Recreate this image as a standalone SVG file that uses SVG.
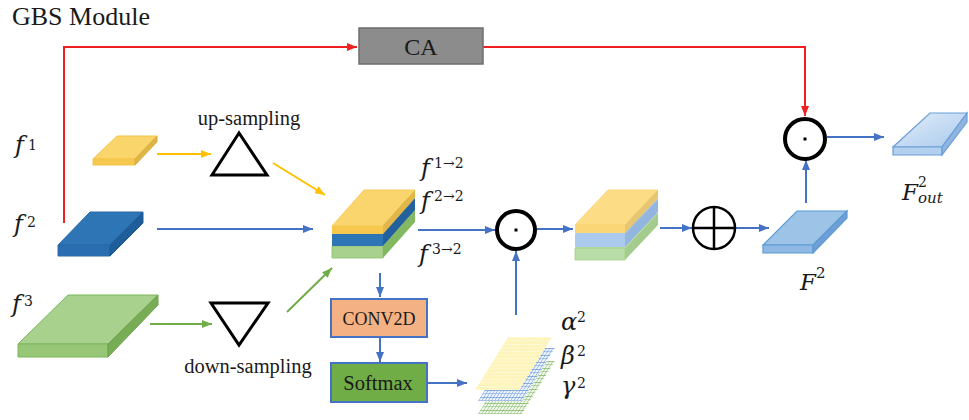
<svg xmlns="http://www.w3.org/2000/svg" width="969" height="420" viewBox="0 0 969 420">
<style>
.blue{stroke:#4472c4;stroke-width:2;fill:none}
.red{stroke:#f02020;stroke-width:2;fill:none}
.yel{stroke:#ffc000;stroke-width:2;fill:none}
.grn{stroke:#70ad47;stroke-width:2;fill:none}
.op{fill:#fff;stroke:#000;stroke-width:4}
.tri{fill:#fff;stroke:#000;stroke-width:3;stroke-linejoin:miter}
</style>
<defs>
<marker id="ab" markerUnits="userSpaceOnUse" markerWidth="10" markerHeight="8" refX="10" refY="4" orient="auto"><path d="M0,0 L10,4 L0,8 z" fill="#4472c4"/></marker>
<marker id="ar" markerUnits="userSpaceOnUse" markerWidth="10" markerHeight="8" refX="10" refY="4" orient="auto"><path d="M0,0 L10,4 L0,8 z" fill="#f02020"/></marker>
<marker id="ay" markerUnits="userSpaceOnUse" markerWidth="10" markerHeight="8" refX="10" refY="4" orient="auto"><path d="M0,0 L10,4 L0,8 z" fill="#ffc000"/></marker>
<marker id="ag" markerUnits="userSpaceOnUse" markerWidth="10" markerHeight="8" refX="10" refY="4" orient="auto"><path d="M0,0 L10,4 L0,8 z" fill="#70ad47"/></marker>
<pattern id="gy" patternUnits="userSpaceOnUse" width="3.2" height="3.5"><rect width="3.2" height="3.5" fill="#fdf3b4"/><path d="M0,0H3.2M0,0V3.5" stroke="#fffbe6" stroke-width="0.9"/></pattern>
<pattern id="gb" patternUnits="userSpaceOnUse" width="3.2" height="3.5"><rect width="3.2" height="3.5" fill="#eef4fc"/><path d="M0,0H3.2M0,0V3.5" stroke="#4f86d0" stroke-width="0.9"/></pattern>
<pattern id="gg" patternUnits="userSpaceOnUse" width="3.2" height="3.5"><rect width="3.2" height="3.5" fill="#f2f8ee"/><path d="M0,0H3.2M0,0V3.5" stroke="#6aa845" stroke-width="0.9"/></pattern>
<linearGradient id="fo" x1="0" y1="0" x2="1" y2="1"><stop offset="0" stop-color="#e3eefa"/><stop offset="1" stop-color="#a9c9ec"/></linearGradient>
</defs>
<rect width="969" height="420" fill="#fff"/>
<text x="12" y="25" font-size="26" font-family="Liberation Serif, serif" fill="#1a1a1a">GBS Module</text>

<g id="connectors">
<path class="red" d="M64,223 V47 H357" marker-end="url(#ar)"/>
<path class="red" d="M483,47 H805 V116" marker-end="url(#ar)"/>
<line class="yel" x1="157" y1="154" x2="211" y2="154" marker-end="url(#ay)"/>
<line class="yel" x1="273" y1="163" x2="325" y2="195" marker-end="url(#ay)"/>
<line class="blue" x1="157" y1="229" x2="313" y2="229" marker-end="url(#ab)"/>
<line class="grn" x1="150" y1="324" x2="212" y2="324" marker-end="url(#ag)"/>
<line class="grn" x1="287" y1="312" x2="332" y2="268" marker-end="url(#ag)"/>
<line class="blue" x1="418" y1="230" x2="495" y2="230" marker-end="url(#ab)"/>
<line class="blue" x1="537" y1="229" x2="573" y2="229" marker-end="url(#ab)"/>
<line class="blue" x1="660" y1="228" x2="692" y2="228" marker-end="url(#ab)"/>
<line class="blue" x1="735" y1="228" x2="769" y2="228" marker-end="url(#ab)"/>
<line class="blue" x1="806" y1="203" x2="806" y2="160" marker-end="url(#ab)"/>
<line class="blue" x1="827" y1="137" x2="884" y2="137" marker-end="url(#ab)"/>
<line class="blue" x1="380" y1="273" x2="380" y2="297" marker-end="url(#ab)"/>
<line class="blue" x1="380" y1="337" x2="380" y2="362" marker-end="url(#ab)"/>
<line class="blue" x1="427" y1="383" x2="467" y2="383" marker-end="url(#ab)"/>
<line class="blue" x1="516" y1="315" x2="516" y2="251" marker-end="url(#ab)"/>
</g>

<g id="ca">
<rect x="359" y="28" width="124" height="36" fill="#8c8c8c" stroke="#6e6e6e" stroke-width="1.5"/>
<text x="421" y="55" font-size="24" text-anchor="middle" font-family="Liberation Serif, serif" fill="#1a1a1a">CA</text>
</g>

<g id="f1">
<polygon points="117,136 157,136 135,159 93,159" fill="#f9d56c" stroke="#f3c649" stroke-width="1"/>
<polygon points="93,159 135,159 135,165 93,165" fill="#f6c84f" stroke="#f3c649" stroke-width="1"/>
<polygon points="157,136 157,142 135,165 135,159" fill="#dfb548" stroke="#d9ad3e" stroke-width="1"/>
<text x="15" y="153" font-size="24" font-family="DejaVu Serif, serif" font-style="italic" fill="#1a1a1a">f</text><text x="28" y="150" font-size="14" font-family="DejaVu Serif, serif" fill="#1a1a1a">1</text>
</g>

<g id="f2">
<polygon points="90,212 143,212 110,245 58,245" fill="#2e75b6" stroke="#2a6aa8" stroke-width="1"/>
<polygon points="58,245 110,245 110,256 58,256" fill="#2a6db0" stroke="#2a6aa8" stroke-width="1"/>
<polygon points="143,212 143,223 110,256 110,245" fill="#1f5d99" stroke="#1f5d99" stroke-width="1"/>
<text x="14" y="232" font-size="24" font-family="DejaVu Serif, serif" font-style="italic" fill="#1a1a1a">f</text><text x="27" y="227" font-size="14" font-family="DejaVu Serif, serif" fill="#1a1a1a">2</text>
</g>

<g id="f3">
<polygon points="68,295 158,295 108,344 18,344" fill="#a9d18e" stroke="#7cb65a" stroke-width="1"/>
<polygon points="18,344 108,344 108,357 18,357" fill="#96c676" stroke="#7cb65a" stroke-width="1"/>
<polygon points="158,295 158,305 108,357 108,344" fill="#78ad56" stroke="#6da24c" stroke-width="1"/>
<text x="12" y="312" font-size="24" font-family="DejaVu Serif, serif" font-style="italic" fill="#1a1a1a">f</text><text x="24" y="306" font-size="14" font-family="DejaVu Serif, serif" fill="#1a1a1a">3</text>
</g>

<g id="upsampling">
<polygon class="tri" points="239,133 212,175 267,175"/>
<text x="249" y="125" font-size="20.5" text-anchor="middle" font-family="Liberation Serif, serif" fill="#1a1a1a">up-sampling</text>
</g>

<g id="downsampling">
<polygon class="tri" points="211,303 268,303 239,345"/>
<text x="248" y="373" font-size="20.5" text-anchor="middle" font-family="Liberation Serif, serif" fill="#1a1a1a">down-sampling</text>
</g>

<g id="stack1">
<polygon points="332,246 383,246 415,210 364,210" fill="#a9d18e"/>
<polygon points="332,246 383,246 383,258 332,258" fill="#a9d18e" stroke="#8cc06a" stroke-width="0.8"/>
<polygon points="383,246 415,210 415,222 383,258" fill="#82b862"/>
<polygon points="332,234 383,234 415,198 364,198" fill="#2e75b6"/>
<polygon points="332,234 383,234 383,246 332,246" fill="#2e75b6"/>
<polygon points="383,234 415,198 415,210 383,246" fill="#22609e"/>
<polygon points="332,226 383,226 415,190 364,190" fill="#fad56e" stroke="#f3c649" stroke-width="0.8"/>
<polygon points="332,226 383,226 383,234 332,234" fill="#f7c84e"/>
<polygon points="383,226 415,190 415,198 383,234" fill="#e2b747"/>
<text x="421" y="176" font-size="24" font-family="DejaVu Serif, serif" font-style="italic" fill="#1a1a1a">f</text><text x="434" y="168" font-size="14" font-family="DejaVu Serif, serif" fill="#1a1a1a">1→2</text>
<text x="421" y="209" font-size="24" font-family="DejaVu Serif, serif" font-style="italic" fill="#1a1a1a">f</text><text x="434" y="201" font-size="14" font-family="DejaVu Serif, serif" fill="#1a1a1a">2→2</text>
<text x="419" y="262" font-size="24" font-family="DejaVu Serif, serif" font-style="italic" fill="#1a1a1a">f</text><text x="432" y="254" font-size="14" font-family="DejaVu Serif, serif" fill="#1a1a1a">3→2</text>
</g>

<g id="conv2d">
<rect x="331" y="299" width="96" height="38" fill="#f4b183" stroke="#4472c4" stroke-width="2"/>
<text x="379" y="325" font-size="18" text-anchor="middle" font-family="Liberation Serif, serif" fill="#1a1a1a">CONV2D</text>
</g>

<g id="softmax">
<rect x="331" y="363" width="96" height="39" fill="#70ad47" stroke="#4472c4" stroke-width="2"/>
<text x="378" y="390" font-size="20.5" text-anchor="middle" font-family="Liberation Serif, serif" fill="#1a1a1a">Softmax</text>
</g>

<g id="weights">
<rect x="0" y="0" width="44" height="53" fill="url(#gg)" transform="translate(511,361) skewX(-31.9)"/>
<rect x="0" y="0" width="44" height="53" fill="url(#gb)" transform="translate(511,348) skewX(-31.9)"/>
<rect x="0" y="0" width="44" height="53" fill="url(#gy)" transform="translate(508,337) skewX(-31.9)"/>
<text x="561" y="330" font-size="24" font-family="DejaVu Serif, serif" font-style="italic" fill="#1a1a1a">α</text><text x="577" y="322" font-size="14" font-family="DejaVu Serif, serif" fill="#1a1a1a">2</text>
<text x="561" y="364" font-size="24" font-family="DejaVu Serif, serif" font-style="italic" fill="#1a1a1a">β</text><text x="577" y="356" font-size="14" font-family="DejaVu Serif, serif" fill="#1a1a1a">2</text>
<text x="561" y="394" font-size="24" font-family="DejaVu Serif, serif" font-style="italic" fill="#1a1a1a">γ</text><text x="577" y="388" font-size="14" font-family="DejaVu Serif, serif" fill="#1a1a1a">2</text>
</g>

<g id="mul1">
<circle class="op" cx="516" cy="230" r="19"/>
<rect x="514.5" y="228.5" width="3" height="3" fill="#000"/>
</g>

<g id="stack2">
<polygon points="575,248 625,248 658,213 608,213" fill="#b7dca3"/>
<polygon points="575,248 625,248 625,260 575,260" fill="#b9dda6" stroke="#a3d08c" stroke-width="0.8"/>
<polygon points="625,248 658,213 658,225 625,260" fill="#a3cc8d"/>
<polygon points="575,234 625,234 658,199 608,199" fill="#a9c8ec"/>
<polygon points="575,234 625,234 625,247 575,247" fill="#accbec"/>
<polygon points="625,234 658,199 658,212 625,247" fill="#93b6e0"/>
<polygon points="575,225 625,225 658,190 608,190" fill="#fddc86" stroke="#f6cf6a" stroke-width="0.8"/>
<polygon points="575,225 625,225 625,233 575,233" fill="#fbd676"/>
<polygon points="625,225 658,190 658,198 625,233" fill="#e9c571"/>
</g>

<g id="add">
<circle cx="714" cy="228" r="21" fill="#fff" stroke="#000" stroke-width="2.5"/>
<path d="M693,228 H735 M714,207 V249" stroke="#000" stroke-width="2.5"/>
</g>

<g id="F2">
<polygon points="797,211 847,211 813,245 763,245" fill="#9dc3e6" stroke="#5b9bd5" stroke-width="1.2"/>
<polygon points="763,245 813,245 813,253 763,253" fill="#8fb8e2" stroke="#5b9bd5" stroke-width="1.2"/>
<polygon points="847,211 847,218 813,253 813,245" fill="#6f9fd4" stroke="#5b9bd5" stroke-width="1.2"/>
<text x="800" y="290" font-size="23" font-family="DejaVu Serif, serif" font-style="italic" fill="#1a1a1a">F</text><text x="816" y="278" font-size="15" font-family="DejaVu Serif, serif" fill="#1a1a1a">2</text>
</g>

<g id="mul2">
<circle class="op" cx="805" cy="139" r="20"/>
<rect x="803.5" y="137.5" width="3" height="3" fill="#000"/>
</g>

<g id="Fout">
<polygon points="930,113 967,113 942,147 893,147" fill="url(#fo)" stroke="#6a9fd8" stroke-width="1.2"/>
<polygon points="893,147 942,147 942,155 893,155" fill="#b3d0ef" stroke="#6a9fd8" stroke-width="1.2"/>
<polygon points="967,113 967,122 942,155 942,147" fill="#8fb4df" stroke="#6a9fd8" stroke-width="1.2"/>
<text x="902" y="200" font-size="23" font-family="DejaVu Serif, serif" font-style="italic" fill="#1a1a1a">F</text><text x="918" y="187" font-size="14" font-family="DejaVu Serif, serif" fill="#1a1a1a">2</text><text x="918" y="203" font-size="15" font-family="DejaVu Serif, serif" font-style="italic" fill="#1a1a1a">out</text>
</g>
</svg>
